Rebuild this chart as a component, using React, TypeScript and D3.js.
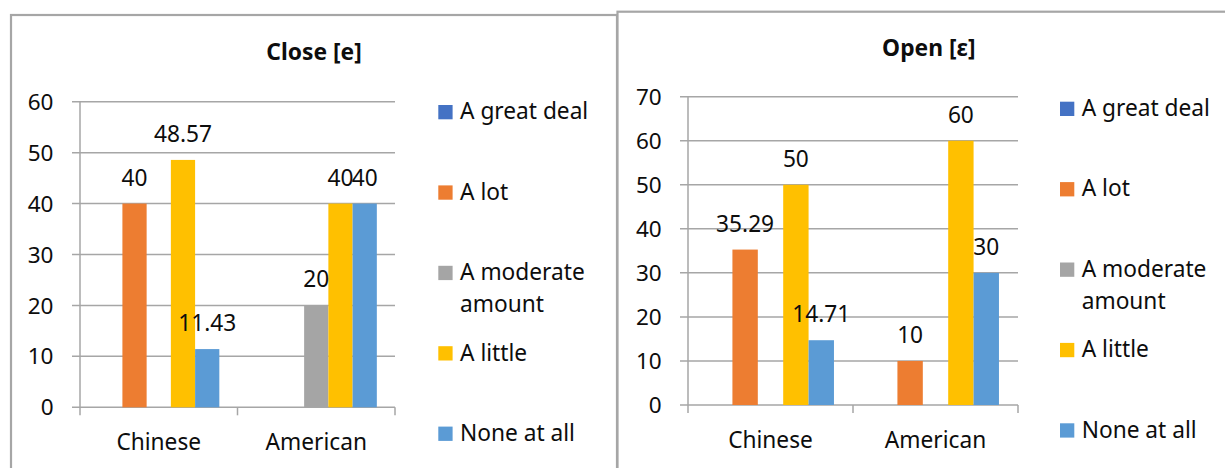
import React from 'react';
import * as d3 from 'd3';

// Respondent groups and answer scale
const categories = ['Chinese', 'American'];
const seriesNames = ['A great deal', 'A lot', 'A moderate amount', 'A little', 'None at all'];
const legendLines = [['A great deal'], ['A lot'], ['A moderate', 'amount'], ['A little'], ['None at all']];
const seriesColors = ['#4472C4', '#ED7D31', '#A5A5A5', '#FFC000', '#5B9BD5'];

// Percentages per answer (null = no response in that group)
const closeChinese: (number | null)[] = [null, 40, null, 48.57, 11.43];
const closeAmerican: (number | null)[] = [null, null, 20, 40, 40];
const openChinese: (number | null)[] = [null, 35.29, null, 50, 14.71];
const openAmerican: (number | null)[] = [null, 10, null, 60, 30];

const closeTicks = [0, 10, 20, 30, 40, 50, 60];
const openTicks = [0, 10, 20, 30, 40, 50, 60, 70];

const FONT = '"Noto Sans", "Open Sans", sans-serif';
const TEXT = '#0d0d0d';
const GRID = '#a6a6a6';

type PanelProps = {
  title: string;
  values: (number | null)[][];
  ticks: number[];
  frame: { x: number; y: number; w: number; h: number };
  titleX: number;
  titleY: number;
  plotX0: number;
  plotX1: number;
  yBottom: number;
  yTop: number;
  tickLabelRight: number;
  catLabelY: number;
  legendX: number;
  legendTop: number;
  legendStep: number;
};

function Panel(p: PanelProps) {
  const yMax = p.ticks[p.ticks.length - 1];
  const y = d3.scaleLinear().domain([0, yMax]).range([p.yBottom, p.yTop]);
  const x = d3.scaleBand<string>().domain(categories).range([p.plotX0, p.plotX1]).padding(0);
  const xs = d3
    .scaleBand<number>()
    .domain(d3.range(seriesNames.length))
    .range([0, x.bandwidth()])
    .paddingInner(0)
    .paddingOuter(0.75);

  const boundaries = [...categories.map((c) => x(c) as number), p.plotX1];
  const sq = 14.3;

  return (
    <g>
      <rect x={p.frame.x} y={p.frame.y} width={p.frame.w} height={p.frame.h} fill="#fff" stroke={GRID} strokeWidth={2.2} />
      <text x={p.titleX} y={p.titleY} textAnchor="middle" fontFamily={FONT} fontWeight={700} fontSize={22.8} fill={TEXT}>
        {p.title}
      </text>

      {/* horizontal gridlines with outside tick stubs */}
      {p.ticks.map((t) => (
        <g key={t}>
          <line x1={p.plotX0 - 8} x2={p.plotX1} y1={y(t)} y2={y(t)} stroke={GRID} strokeWidth={1.5} />
          <text
            x={p.tickLabelRight}
            y={y(t)}
            dy="0.36em"
            textAnchor="end"
            fontFamily={FONT}
            fontSize={22.5}
            fill={TEXT}
          >
            {t}
          </text>
        </g>
      ))}

      {/* value axis line */}
      <line x1={p.plotX0} x2={p.plotX0} y1={p.yTop} y2={p.yBottom} stroke={GRID} strokeWidth={1.5} />

      {/* category tick marks */}
      {boundaries.map((bx, i) => (
        <line key={i} x1={bx} x2={bx} y1={p.yBottom} y2={p.yBottom + 8} stroke={GRID} strokeWidth={1.5} />
      ))}

      {/* bars */}
      {categories.map((c, ci) =>
        p.values[ci].map((v, si) => {
          if (v == null) return null;
          const bx = (x(c) as number) + (xs(si) as number);
          return (
            <rect
              key={`${ci}-${si}`}
              x={bx}
              y={y(v)}
              width={xs.bandwidth()}
              height={p.yBottom - y(v)}
              fill={seriesColors[si]}
            />
          );
        })
      )}

      {/* value labels above each bar */}
      {categories.map((c, ci) =>
        p.values[ci].map((v, si) => {
          if (v == null) return null;
          const cx = (x(c) as number) + (xs(si) as number) + xs.bandwidth() / 2;
          return (
            <text
              key={`l-${ci}-${si}`}
              x={cx}
              y={y(v) - 18}
              textAnchor="middle"
              fontFamily={FONT}
              fontSize={22.7}
              fill={TEXT}
            >
              {String(v)}
            </text>
          );
        })
      )}

      {/* category labels */}
      {categories.map((c) => (
        <text
          key={c}
          x={(x(c) as number) + x.bandwidth() / 2}
          y={p.catLabelY}
          textAnchor="middle"
          fontFamily={FONT}
          fontSize={22.7}
          fill={TEXT}
        >
          {c}
        </text>
      ))}

      {/* legend */}
      {seriesNames.map((name, si) => {
        const top = p.legendTop + si * p.legendStep;
        return (
          <g key={name}>
            <rect x={p.legendX} y={top} width={sq} height={sq} fill={seriesColors[si]} />
            {legendLines[si].map((line, li) => (
              <text
                key={li}
                x={p.legendX + 21.7}
                y={top + sq + li * 31.7}
                fontFamily={FONT}
                fontSize={22.7}
                fill={TEXT}
              >
                {line}
              </text>
            ))}
          </g>
        );
      })}
    </g>
  );
}

export default function App() {
  return (
    <svg
      width={1225}
      height={468}
      style={{ position: 'absolute', left: 0, top: 0, display: 'block', background: '#fff' }}
    >
      <rect x={0} y={0} width={1225} height={468} fill="#fff" />
      <Panel
        title="Close [e]"
        values={[closeChinese, closeAmerican]}
        ticks={closeTicks}
        frame={{ x: 11, y: 15, w: 606, h: 480 }}
        titleX={314}
        titleY={60}
        plotX0={80}
        plotX1={395}
        yBottom={407.3}
        yTop={101.7}
        tickLabelRight={53.5}
        catLabelY={449.5}
        legendX={438.3}
        legendTop={105}
        legendStep={80.4}
      />
      <Panel
        title="Open [ε]"
        values={[openChinese, openAmerican]}
        ticks={openTicks}
        frame={{ x: 617.5, y: 11.7, w: 640, h: 480 }}
        titleX={928.8}
        titleY={56}
        plotX0={688}
        plotX1={1018}
        yBottom={405}
        yTop={96.7}
        tickLabelRight={661.7}
        catLabelY={448.3}
        legendX={1060}
        legendTop={101.7}
        legendStep={80.4}
      />
    </svg>
  );
}
